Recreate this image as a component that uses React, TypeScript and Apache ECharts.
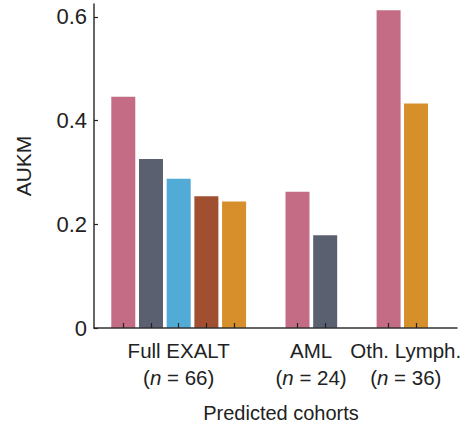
import React, { useEffect, useRef } from "react";
import * as echarts from "echarts";

const cohortLabels = ["Full EXALT", "AML", "Oth. Lymph."];
const cohortN = [66, 24, 36];
const cohortLabelPos = [2, 6.78, 10.2];
const barPos = [0, 1, 2, 3, 4, 6.29, 7.29, 9.58, 10.57];
const barValues = [0.446, 0.326, 0.288, 0.254, 0.244, 0.263, 0.179, 0.613, 0.433];
const barColors = ["#C46C86", "#5A6070", "#52AAD6", "#A04F30", "#D68F2A", "#C46C86", "#5A6070", "#C46C86", "#D68F2A"];
const yTicks = [0, 0.2, 0.4, 0.6];

const FONT = "'Liberation Sans', Arial, Helvetica, sans-serif";
const TXT = "#222";

export default function App() {
  const ref = useRef<HTMLDivElement>(null);
  useEffect(() => {
    if (!ref.current) return;
    const chart = echarts.init(ref.current, undefined, { renderer: "svg" });
    chart.setOption({
      animation: false,
      textStyle: { fontFamily: FONT },
      grid: { left: 94, right: 14, top: 4, bottom: 95 },
      xAxis: {
        type: "value",
        min: -1.058,
        max: 12.05,
        z: 5,
        splitLine: { show: false },
        axisLine: { show: true, onZero: false, lineStyle: { color: "#333", width: 1.5 } },
        axisTick: { show: true, inside: true, length: 5, customValues: barPos, lineStyle: { color: "#222", width: 1.2 } },
        axisLabel: {
          customValues: cohortLabelPos,
          margin: 9,
          color: TXT,
          fontSize: 20.5,
          lineHeight: 27,
          fontFamily: FONT,
          formatter: (v: number) => {
            let idx = 0;
            let best = Infinity;
            cohortLabelPos.forEach((p, i) => {
              if (Math.abs(p - v) < best) { best = Math.abs(p - v); idx = i; }
            });
            return `${cohortLabels[idx]}\n({i|n} = ${cohortN[idx]})`;
          },
          rich: {
            i: { fontStyle: "italic", fontSize: 20.5, color: TXT, fontFamily: FONT, lineHeight: 27 },
          },
        },
      },
      yAxis: {
        type: "value",
        min: 0,
        max: 0.625,
        z: 5,
        name: "AUKM",
        nameLocation: "middle",
        nameGap: 60,
        nameTextStyle: { color: TXT, fontSize: 21, fontFamily: FONT },
        splitLine: { show: false },
        axisLine: { show: true, onZero: false, lineStyle: { color: "#333", width: 1.5 } },
        axisTick: { show: true, inside: true, length: 4, customValues: yTicks, lineStyle: { color: "#222", width: 1.2 } },
        axisLabel: {
          customValues: yTicks,
          margin: 7,
          color: TXT,
          fontSize: 22,
          fontFamily: FONT,
          formatter: (v: number) => (v === 0 ? "0" : v.toFixed(1)),
        },
      },
      graphic: [
        {
          type: "text",
          x: 281,
          y: 403,
          style: {
            text: "Predicted cohorts",
            fill: TXT,
            fontSize: 20,
            fontFamily: FONT,
            textAlign: "center",
            textVerticalAlign: "top",
          },
        },
      ],
      series: [
        {
          type: "bar",
          barWidth: 24,
          data: barPos.map((p, i) => ({
            value: [p, barValues[i]],
            itemStyle: { color: barColors[i] },
          })),
        },
      ],
    });
    return () => chart.dispose();
  }, []);
  return <div ref={ref} style={{ width: 471, height: 423, position: "absolute", left: 0, top: 0 }} />;
}
